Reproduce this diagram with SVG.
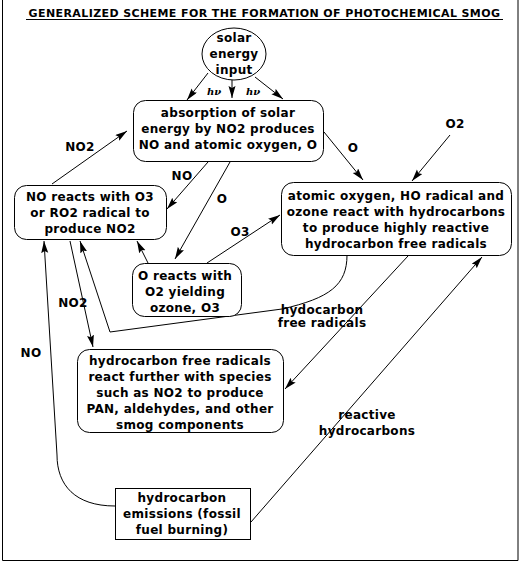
<svg xmlns="http://www.w3.org/2000/svg" width="520" height="562" viewBox="0 0 520 562">
<style>
text{font-family:"DejaVu Sans","Liberation Sans",sans-serif;font-weight:bold;font-size:12px;fill:#000;letter-spacing:0.3px}
.c{text-anchor:middle}
.ttl{font-size:11px;letter-spacing:0.4px}
.nd{fill:#fff;stroke:#000;stroke-width:1}
.ln{fill:none;stroke:#000;stroke-width:1}
.hv{font-family:"DejaVu Serif","Liberation Serif",serif;font-style:italic;font-size:10px;letter-spacing:0}
</style>
<defs>
<marker id="ah" markerUnits="userSpaceOnUse" markerWidth="13" markerHeight="8" refX="12" refY="3.5" orient="auto">
<path d="M0,0 L12,3.5 L0,7 L2,3.5 z" fill="#000"/>
</marker>
</defs>
<rect x="0" y="0" width="520" height="562" fill="#fff"/>
<path d="M2.5,0 L2.5,560.5 L518,560.5 L518,0" fill="none" stroke="#000"/>
<g id="title">
<text class="c ttl" x="264.5" y="17">GENERALIZED SCHEME FOR THE FORMATION OF PHOTOCHEMICAL SMOG</text>
<line x1="26" y1="19.5" x2="503" y2="19.5" stroke="#000"/>
</g>
<g id="connectors">
<path class="ln" d="M208,73 L187,100" marker-end="url(#ah)"/>
<path class="ln" d="M232,80 L232,98" marker-end="url(#ah)"/>
<path class="ln" d="M255,77 L283,99" marker-end="url(#ah)"/>
<text class="hv c" x="214" y="95">hν</text>
<text class="hv c" x="253" y="95">hν</text>
<path class="ln" d="M52,184 L127,131" marker-end="url(#ah)"/>
<text class="c" x="80" y="151">NO2</text>
<path class="ln" d="M208,162 L167,209" marker-end="url(#ah)"/>
<text class="c" x="182" y="180">NO</text>
<path class="ln" d="M230,162 L175,259" marker-end="url(#ah)"/>
<text class="c" x="222" y="203">O</text>
<path class="ln" d="M148,263 L137,241" marker-end="url(#ah)"/>
<path class="ln" d="M207,263 L280,215" marker-end="url(#ah)"/>
<text class="c" x="240" y="236">O3</text>
<path class="ln" d="M324,132 L363,180" marker-end="url(#ah)"/>
<text class="c" x="353" y="152">O</text>
<path class="ln" d="M450,135 L412,181" marker-end="url(#ah)"/>
<text class="c" x="455" y="128">O2</text>
<path class="ln" d="M347,255 C347,285 330,298 282,309 L110,332 L80,241" marker-end="url(#ah)"/>
<text class="c" x="322" y="314">hydocarbon</text>
<text class="c" x="322" y="327">free radicals</text>
<path class="ln" d="M70,241 L93,347" marker-end="url(#ah)"/>
<text class="c" x="73" y="307">NO2</text>
<path class="ln" d="M115,506 C75,506 57,485 57,455 L44,241" marker-end="url(#ah)"/>
<text class="c" x="31" y="357">NO</text>
<path class="ln" d="M408,256 L285,389" marker-end="url(#ah)"/>
<path class="ln" d="M251,522 L482,257" marker-end="url(#ah)"/>
<text class="c" x="367" y="419">reactive</text>
<text class="c" x="367" y="435">hydrocarbons</text>
</g>
<g id="solar">
<ellipse class="nd" cx="234" cy="54" rx="32" ry="26"/>
<text class="c" x="234" y="42">solar</text>
<text class="c" x="234" y="58">energy</text>
<text class="c" x="234" y="74">input</text>
</g>
<g id="absorption">
<rect class="nd" x="133.5" y="100.5" width="190" height="61" rx="12"/>
<text class="c" x="228" y="117">absorption of solar</text>
<text class="c" x="228" y="133">energy by NO2 produces</text>
<text class="c" x="228" y="149">NO and atomic oxygen, O</text>
</g>
<g id="no-reacts">
<rect class="nd" x="14.5" y="185.5" width="152" height="54" rx="12"/>
<text class="c" x="90" y="201">NO reacts with O3</text>
<text class="c" x="90" y="217">or RO2 radical to</text>
<text class="c" x="90" y="233">produce NO2</text>
</g>
<g id="o-reacts">
<rect class="nd" x="132.5" y="263.5" width="109" height="53" rx="12"/>
<text class="c" x="185" y="280">O reacts with</text>
<text class="c" x="185" y="296">O2 yielding</text>
<text class="c" x="185" y="312">ozone, O3</text>
</g>
<g id="atomic-oxygen">
<rect class="nd" x="281.5" y="182.5" width="230" height="73" rx="12"/>
<text class="c" x="396" y="200">atomic oxygen, HO radical and</text>
<text class="c" x="396" y="216">ozone react with hydrocarbons</text>
<text class="c" x="396" y="232">to produce highly reactive</text>
<text class="c" x="396" y="248">hydrocarbon free radicals</text>
</g>
<g id="free-radicals">
<rect class="nd" x="77.5" y="349.5" width="206" height="83" rx="12"/>
<text class="c" x="180" y="365">hydrocarbon free radicals</text>
<text class="c" x="180" y="381">react further with species</text>
<text class="c" x="180" y="397">such as NO2 to produce</text>
<text class="c" x="180" y="413">PAN, aldehydes, and other</text>
<text class="c" x="180" y="429">smog components</text>
</g>
<g id="emissions">
<rect class="nd" x="115.5" y="488.5" width="135" height="51"/>
<text class="c" x="182" y="502">hydrocarbon</text>
<text class="c" x="182" y="518">emissions (fossil</text>
<text class="c" x="182" y="534">fuel burning)</text>
</g>
</svg>
